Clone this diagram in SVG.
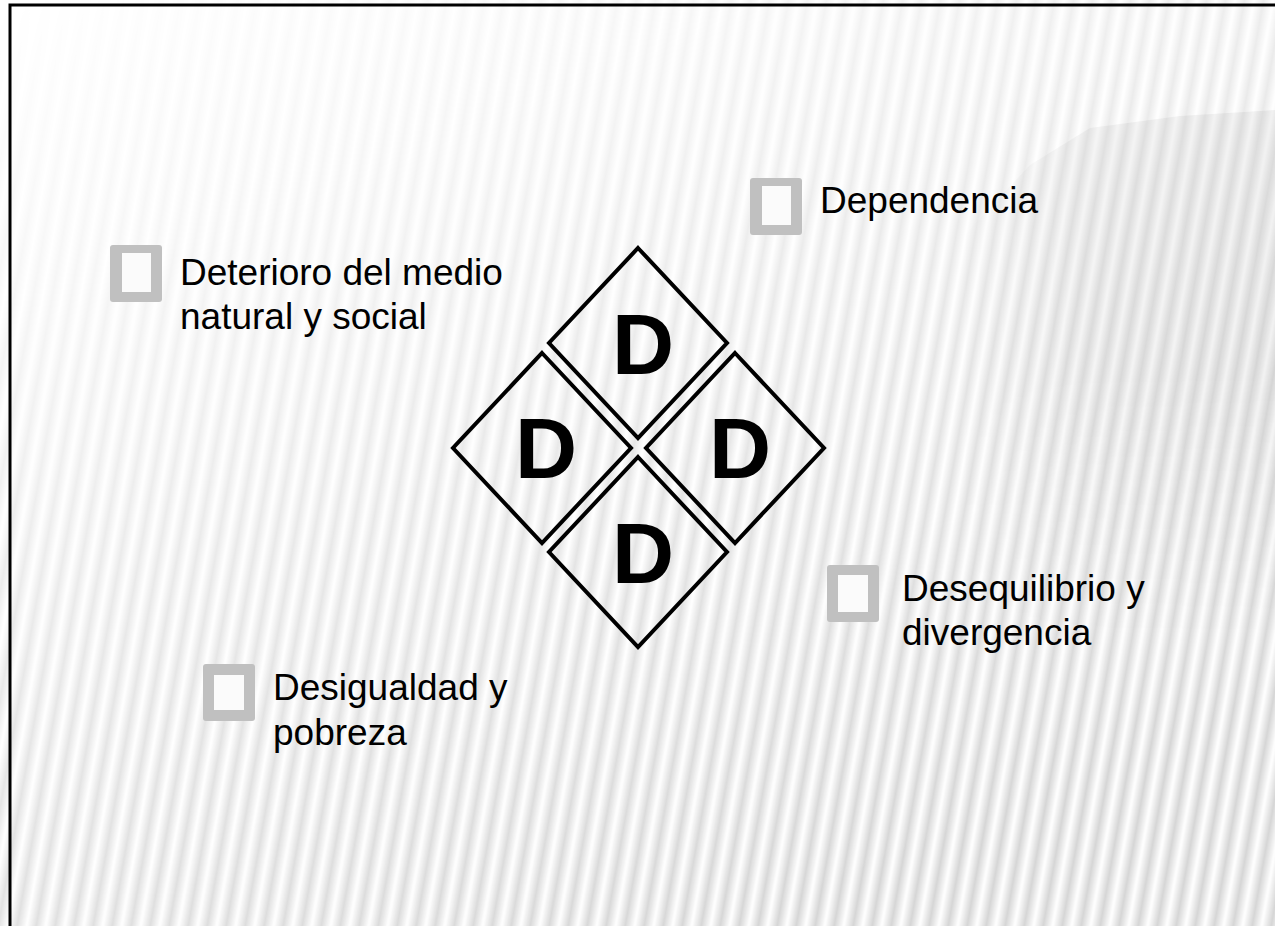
<svg xmlns="http://www.w3.org/2000/svg" width="1275" height="926" viewBox="0 0 1275 926">
  <style>
    .lbl { font-family: "Liberation Sans", Arial, sans-serif; font-size: 37px; fill: #000; }
    .big { font-family: "Liberation Sans", Arial, sans-serif; font-size: 86px; font-weight: bold; fill: #000; text-anchor: middle; }
    .dia { fill: none; stroke: #000; stroke-width: 4; stroke-linejoin: miter; }
    .bul { fill: #c0c0c0; }
    .bin { fill: #fbfbfb; }
  </style>
  <defs>
    <linearGradient id="sg" x1="0" y1="0" x2="1" y2="0">
      <stop offset="0" stop-color="#000" stop-opacity="0"/>
      <stop offset="0.5" stop-color="#000" stop-opacity="0.16"/>
      <stop offset="1" stop-color="#000" stop-opacity="0"/>
    </linearGradient>
    <pattern id="stripes" patternUnits="userSpaceOnUse" width="19" height="200" patternTransform="skewX(-10)">
      <rect x="0" y="0" width="19" height="200" fill="url(#sg)"/>
    </pattern>
    <linearGradient id="mg" x1="0" y1="0" x2="0.6" y2="1">
      <stop offset="0" stop-color="#000000"/>
      <stop offset="0.25" stop-color="#3a3a3a"/>
      <stop offset="0.55" stop-color="#8f8f8f"/>
      <stop offset="1" stop-color="#ffffff"/>
    </linearGradient>
    <mask id="m" maskUnits="userSpaceOnUse" x="0" y="0" width="1275" height="926">
      <rect x="0" y="0" width="1275" height="926" fill="url(#mg)"/>
    </mask>
    <linearGradient id="shade" x1="0" y1="0" x2="1" y2="0">
      <stop offset="0" stop-color="#000" stop-opacity="0"/>
      <stop offset="0.4" stop-color="#000" stop-opacity="0.04"/>
      <stop offset="1" stop-color="#000" stop-opacity="0.05"/>
    </linearGradient>
    <linearGradient id="shadeV" x1="0" y1="0" x2="0" y2="1">
      <stop offset="0" stop-color="#fff"/>
      <stop offset="0.5" stop-color="#fff"/>
      <stop offset="1" stop-color="#000"/>
    </linearGradient>
    <mask id="mv" maskUnits="userSpaceOnUse" x="0" y="0" width="1275" height="926">
      <rect x="960" y="100" width="315" height="540" fill="url(#shadeV)"/>
    </mask>
  </defs>

  <g id="background">
    <rect x="0" y="0" width="1275" height="926" fill="#ffffff"/>
    <rect x="0" y="0" width="1275" height="926" fill="url(#stripes)" mask="url(#m)"/>
    <polygon points="960,240 1030,165 1090,128 1180,116 1275,110 1275,640 960,640" fill="url(#shade)" mask="url(#mv)"/>
    <rect x="10" y="5" width="1300" height="1000" fill="none" stroke="#000" stroke-width="3"/>
  </g>

  <g id="diamond-top">
    <polygon class="dia" points="638,248 727,343 638,438 549,343"/>
    <text class="big" x="643" y="374">D</text>
  </g>
  <g id="diamond-left">
    <polygon class="dia" points="542,353 631,448 542,543 453,448"/>
    <text class="big" x="546" y="478">D</text>
  </g>
  <g id="diamond-right">
    <polygon class="dia" points="735,353 824,448 735,543 646,448"/>
    <text class="big" x="740" y="478">D</text>
  </g>
  <g id="diamond-bottom">
    <polygon class="dia" points="638,457 727,552 638,647 549,552"/>
    <text class="big" x="643" y="583">D</text>
  </g>

  <g id="item-dependencia">
    <rect class="bul" x="750" y="178" width="52" height="57" rx="3"/>
    <rect class="bin" x="762" y="186" width="29" height="39"/>
    <text class="lbl" x="820" y="213">Dependencia</text>
  </g>
  <g id="item-deterioro">
    <rect class="bul" x="110" y="245" width="52" height="57" rx="3"/>
    <rect class="bin" x="122" y="253" width="29" height="39"/>
    <text class="lbl" x="180" y="285">Deterioro del medio</text>
    <text class="lbl" x="180" y="329">natural y social</text>
  </g>
  <g id="item-desequilibrio">
    <rect class="bul" x="827" y="565" width="52" height="57" rx="3"/>
    <rect class="bin" x="838" y="575" width="30" height="37"/>
    <text class="lbl" x="902" y="601">Desequilibrio y</text>
    <text class="lbl" x="902" y="645">divergencia</text>
  </g>
  <g id="item-desigualdad">
    <rect class="bul" x="203" y="664" width="52" height="57" rx="3"/>
    <rect class="bin" x="214" y="675" width="30" height="35"/>
    <text class="lbl" x="273" y="700">Desigualdad y</text>
    <text class="lbl" x="273" y="745">pobreza</text>
  </g>
</svg>
